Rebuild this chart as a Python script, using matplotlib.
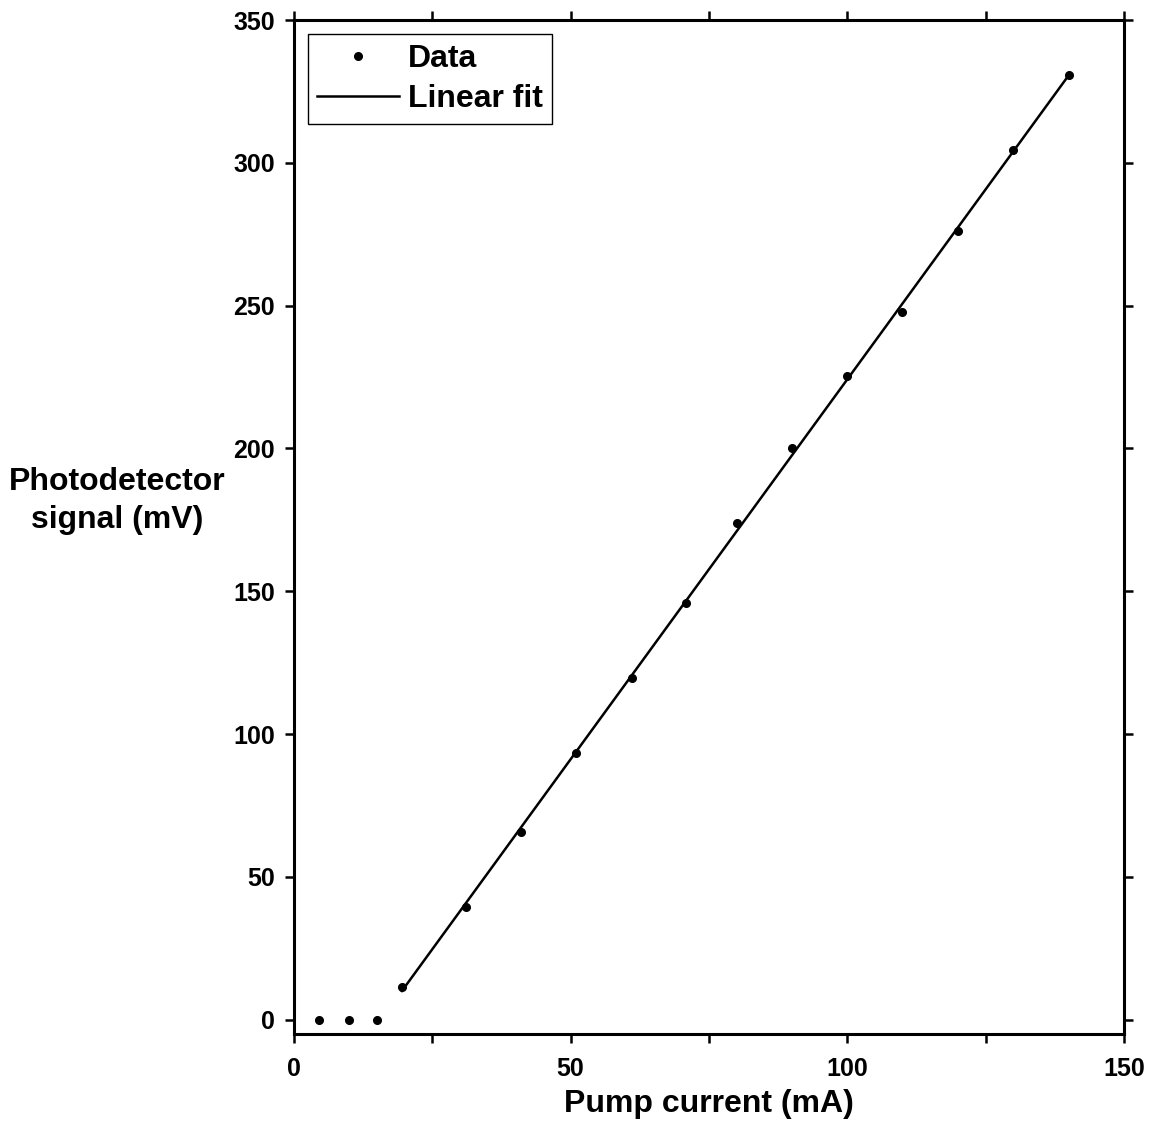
import numpy as np
import matplotlib
matplotlib.use("Agg")
import matplotlib.pyplot as plt

pump_current = [4.6, 10.0, 15.0, 19.5, 31.0, 41.0, 51.0, 61.0, 70.8, 80.0,
                90.0, 99.9, 109.9, 120.0, 130.0, 140.0]
signal = [0.0, 0.0, 0.0, 11.4, 39.6, 65.7, 93.4, 119.8, 146.0, 173.9,
          200.0, 225.3, 247.6, 276.2, 304.4, 330.7]
fit_threshold = 19.0
x_ticks = [0, 50, 100, 150]
y_ticks = [0, 50, 100, 150, 200, 250, 300, 350]

plt.rcParams['font.family'] = ['Liberation Sans', 'DejaVu Sans']
plt.rcParams['font.weight'] = 'bold'

fig = plt.figure(figsize=(11.64, 11.24), dpi=100)
ax = fig.add_axes([294/1164, 1-1034/1124, (1124-294)/1164, (1034-20)/1124])

x = np.array(pump_current)
y = np.array(signal)
mask = x >= fit_threshold
slope, intercept = np.polyfit(x[mask], y[mask], 1)
xf = np.array([x[mask].min(), x[mask].max()])

ax.plot(x, y, 'o', color='black', markersize=5.5, label='Data', zorder=3)
ax.plot(xf, slope*xf + intercept, '-', color='black', lw=1.8, label='Linear fit')

ax.set_xlim(0, 150)
ax.set_ylim(-5, 350)
ax.set_xticks(x_ticks)
ax.set_xticks([25, 75, 125], minor=True)
ax.set_yticks(y_ticks)
for s in ax.spines.values():
    s.set_linewidth(2.2)
ax.tick_params(which='both', direction='out', top=True, right=True,
               length=6.5, width=1.8, labelsize=18)
ax.tick_params(axis='x', pad=10)
ax.tick_params(axis='y', pad=7)
for lab in ax.get_xticklabels() + ax.get_yticklabels():
    lab.set_fontweight('bold')

ax.set_xlabel('Pump current (mA)', fontsize=23, fontweight='bold', labelpad=5.5)
fig.text(117/1164, 1-501/1124, 'Photodetector\nsignal (mV)', fontsize=23,
         fontweight='bold', ha='center', va='center', linespacing=1.33)

leg = ax.legend(loc='upper left', bbox_to_anchor=(0.0165, 0.986), fontsize=23,
                frameon=True, fancybox=False, edgecolor='black', framealpha=1,
                borderpad=0.3, handlelength=2.55, handletextpad=0.28,
                labelspacing=0.33, borderaxespad=0)
leg.get_frame().set_linewidth(1.0)
for t in leg.get_texts():
    t.set_fontweight('bold')

fig.savefig('out.png', dpi=100)
